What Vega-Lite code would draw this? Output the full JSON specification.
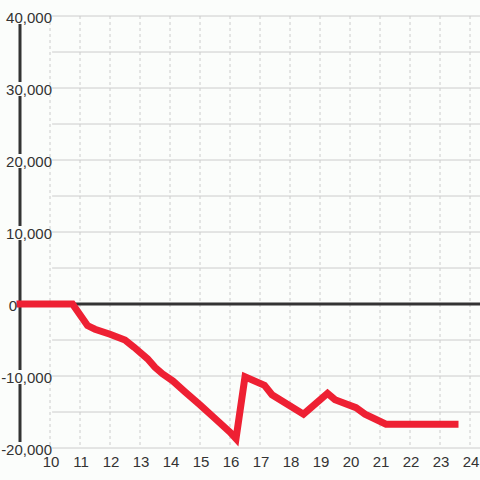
{
  "$schema": "https://vega.github.io/schema/vega-lite/v6.json",
  "width": 460,
  "height": 432,
  "autosize": "none",
  "padding": {"left": 20, "top": 16, "right": 0, "bottom": 32},
  "background": "#fbfdfb",
  "config": {"view": {"stroke": null}},
  "datasets": {
    "series": [
      {"x": 9, "y": 0},
      {"x": 10.75, "y": 0},
      {"x": 11.25, "y": -3000},
      {"x": 11.5, "y": -3500},
      {"x": 12, "y": -4200},
      {"x": 12.5, "y": -5000},
      {"x": 12.8, "y": -6000},
      {"x": 13.25, "y": -7600},
      {"x": 13.5, "y": -8800},
      {"x": 13.75, "y": -9700},
      {"x": 14.1, "y": -10700},
      {"x": 14.5, "y": -12200},
      {"x": 15, "y": -14000},
      {"x": 15.5, "y": -15900},
      {"x": 16, "y": -17800},
      {"x": 16.2, "y": -18700},
      {"x": 16.5, "y": -10100},
      {"x": 17.15, "y": -11300},
      {"x": 17.4, "y": -12600},
      {"x": 18.45, "y": -15300},
      {"x": 19.25, "y": -12400},
      {"x": 19.5, "y": -13300},
      {"x": 20.2, "y": -14400},
      {"x": 20.5, "y": -15300},
      {"x": 21.2, "y": -16700},
      {"x": 23.5, "y": -16700}
    ],
    "grid": [
      {"v": -20000}, {"v": -15000}, {"v": -10000}, {"v": -5000},
      {"v": 5000}, {"v": 10000}, {"v": 15000}, {"v": 20000}, {"v": 25000},
      {"v": 30000}, {"v": 35000}, {"v": 40000}
    ],
    "xticks": [
      {"v": 10}, {"v": 11}, {"v": 12}, {"v": 13}, {"v": 14}, {"v": 15}, {"v": 16}, {"v": 17},
      {"v": 18}, {"v": 19}, {"v": 20}, {"v": 21}, {"v": 22}, {"v": 23}, {"v": 24}
    ],
    "labels": [
      {"v": -20000, "t": "-20,000"},
      {"v": -10000, "t": "-10,000"},
      {"v": 10000, "t": "10,000"},
      {"v": 20000, "t": "20,000"},
      {"v": 30000, "t": "30,000"},
      {"v": 40000, "t": "40,000"}
    ],
    "zero": [{"v": 0, "t": "0"}]
  },
  "layer": [
    {
      "data": {"name": "xticks"},
      "mark": {"type": "rule", "color": "#cccccc", "strokeWidth": 1, "strokeDash": [3, 3]},
      "encoding": {
        "x": {"field": "v", "type": "quantitative", "scale": {"domain": [9, 24.3333], "nice": false, "zero": false}, "axis": null}
      }
    },
    {
      "data": {"name": "grid"},
      "mark": {"type": "rule", "color": "#cccccc", "strokeWidth": 1},
      "encoding": {
        "y": {"field": "v", "type": "quantitative", "scale": {"domain": [-20000, 40000], "nice": false, "zero": false}, "axis": null},
        "x": {"datum": 10.07},
        "x2": {"datum": 24.3333}
      }
    },
    {
      "data": {"name": "zero"},
      "mark": {"type": "rule", "color": "#333333", "strokeWidth": 3},
      "encoding": {
        "y": {"field": "v", "type": "quantitative"},
        "x": {"datum": 9},
        "x2": {"datum": 24.3333}
      }
    },
    {
      "data": {"name": "zero"},
      "mark": {"type": "rule", "color": "#333333", "strokeWidth": 3},
      "encoding": {
        "x": {"datum": 9},
        "y": {"datum": -20000},
        "y2": {"datum": 40000}
      }
    },
    {
      "data": {"name": "labels"},
      "mark": {"type": "point", "shape": "square", "size": 196, "filled": true, "color": "#fbfdfb", "opacity": 1, "strokeWidth": 0, "yOffset": 1},
      "encoding": {
        "x": {"datum": 9},
        "y": {"field": "v", "type": "quantitative"}
      }
    },
    {
      "data": {"name": "series"},
      "mark": {"type": "line", "color": "#ee2033", "strokeWidth": 7, "strokeCap": "square"},
      "encoding": {
        "x": {"field": "x", "type": "quantitative"},
        "y": {"field": "y", "type": "quantitative"}
      }
    },
    {
      "data": {"name": "labels"},
      "mark": {"type": "text", "align": "right", "baseline": "alphabetic", "dx": 32, "dy": 7, "fontSize": 15, "color": "#333333", "font": "Liberation Sans"},
      "encoding": {
        "x": {"datum": 9},
        "y": {"field": "v", "type": "quantitative"},
        "text": {"field": "t"}
      }
    },
    {
      "data": {"name": "zero"},
      "mark": {"type": "text", "align": "right", "baseline": "alphabetic", "dx": -3, "dy": 7, "fontSize": 15, "color": "#333333", "font": "Liberation Sans"},
      "encoding": {
        "x": {"datum": 9},
        "y": {"field": "v", "type": "quantitative"},
        "text": {"field": "t"}
      }
    },
    {
      "data": {"name": "xticks"},
      "mark": {"type": "text", "align": "center", "baseline": "alphabetic", "dx": 1, "dy": 19, "fontSize": 15, "color": "#333333", "font": "Liberation Sans"},
      "encoding": {
        "x": {"field": "v", "type": "quantitative"},
        "y": {"datum": -20000},
        "text": {"field": "v", "type": "quantitative"}
      }
    }
  ]
}
